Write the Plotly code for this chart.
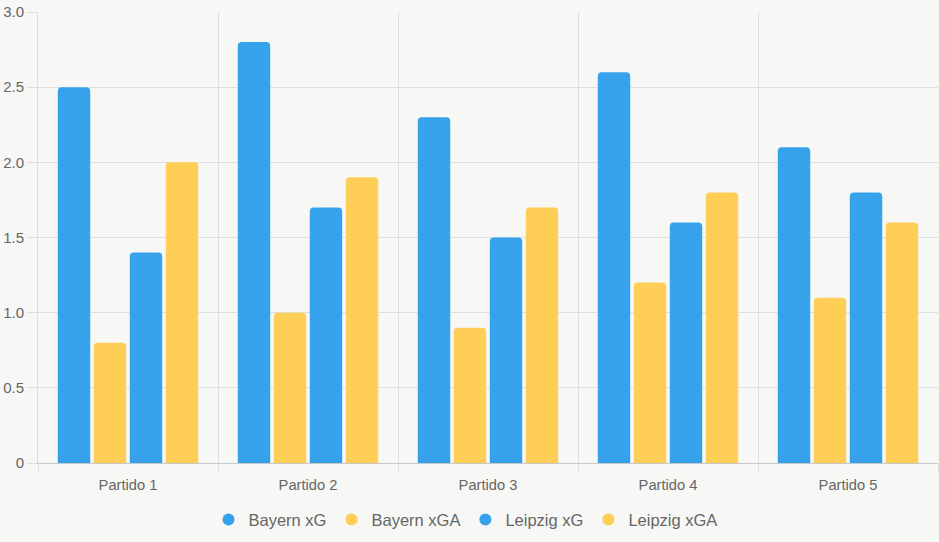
import plotly.graph_objects as go

categories = ["Partido 1", "Partido 2", "Partido 3", "Partido 4", "Partido 5"]
series_names = ["Bayern xG", "Bayern xGA", "Leipzig xG", "Leipzig xGA"]
bayern_xg = [2.5, 2.8, 2.3, 2.6, 2.1]
bayern_xga = [0.8, 1.0, 0.9, 1.2, 1.1]
leipzig_xg = [1.4, 1.7, 1.5, 1.6, 1.8]
leipzig_xga = [2.0, 1.9, 1.7, 1.8, 1.6]
y_tickvals = [0, 0.5, 1.0, 1.5, 2.0, 2.5, 3.0]
y_ticktext = ["0", "0.5", "1.0", "1.5", "2.0", "2.5", "3.0"]

colors = ["#36A2EB", "#FFCE56", "#36A2EB", "#FFCE56"]
values = [bayern_xg, bayern_xga, leipzig_xg, leipzig_xga]
bg = "#F7F7F5"
font_family = "Liberation Sans, Arial, sans-serif"

fig = go.Figure()
for name, vals, col in zip(series_names, values, colors):
    fig.add_trace(go.Bar(
        x=categories, y=vals, name=name, showlegend=False,
        marker=dict(color=col, cornerradius=4, line=dict(width=0)),
        hovertemplate="%{x}<br>" + name + ": %{y}<extra></extra>",
    ))
for name, col in zip(series_names, colors):
    fig.add_trace(go.Scatter(
        x=[None], y=[None], mode="markers", name=name,
        marker=dict(color=col, size=13, symbol="circle"),
    ))

fig.update_layout(
    width=939, height=542,
    margin=dict(l=38, r=1, t=12, b=79, autoexpand=False),
    paper_bgcolor=bg, plot_bgcolor=bg,
    barmode="group", bargap=0.2, bargroupgap=0.1,
    font=dict(family=font_family, color="#666666"),
    legend=dict(
        orientation="h", x=0.475, xanchor="center",
        y=-0.087, yanchor="top",
        font=dict(size=16.5, color="#666666"), itemsizing="constant",
        itemwidth=30, tracegroupgap=0, bgcolor="rgba(0,0,0,0)",
    ),
    xaxis=dict(
        type="category", tickson="boundaries", showgrid=True,
        gridcolor="#DEDEDE", gridwidth=1,
        ticks="outside", ticklen=7, tickcolor="#DEDEDE",
        showline=True, linecolor="#C8C8C8", linewidth=1,
        tickfont=dict(size=14.7, color="#666666"),
        ticklabelstandoff=8,
        range=[-0.5, 4.5], fixedrange=True,
    ),
    yaxis=dict(
        range=[0, 3.0], tickvals=y_tickvals, ticktext=y_ticktext,
        showgrid=True, gridcolor="#DEDEDE", gridwidth=1,
        ticks="outside", ticklen=10, tickcolor="#DEDEDE",
        showline=True, linecolor="#DEDEDE", linewidth=1,
        zeroline=False,
        tickfont=dict(size=15, color="#666666"),
        fixedrange=True,
    ),
)

fig.write_html("out.html")
